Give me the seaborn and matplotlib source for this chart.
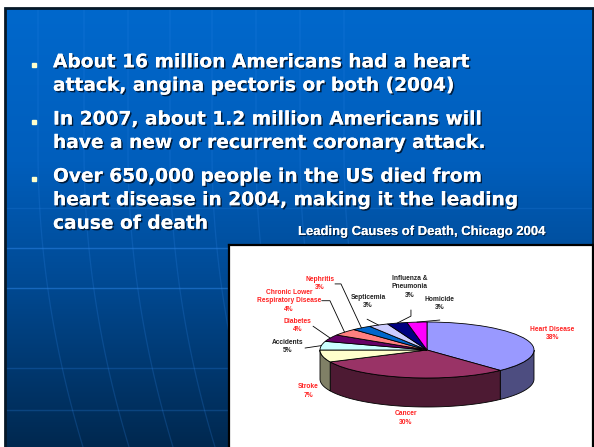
import numpy as np
import matplotlib
matplotlib.use("Agg")
import matplotlib.pyplot as plt
import matplotlib.patheffects as pe
from matplotlib.patches import Rectangle
from matplotlib.colors import to_rgb, LinearSegmentedColormap
import seaborn as sns

# --- data ---
causes = ["Heart Disease", "Cancer", "Stroke", "Accidents", "Diabetes",
          "Chronic Lower\nRespiratory Disease", "Nephritis", "Septicemia",
          "Influenza &\nPneumonia", "Homicide"]
shares = [38, 30, 7, 5, 4, 4, 3, 3, 3, 3]
slice_colors = ["#9999FF", "#993366", "#FFFFCC", "#CCFFFF", "#660066",
                "#FF8080", "#0066CC", "#CCCCFF", "#000080", "#FF00FF"]
label_is_red = [True, True, True, False, True, True, True, False, False, False]

bullets = [
    ["About 16 million Americans had a heart",
     "attack, angina pectoris or both (2004)"],
    ["In 2007, about 1.2 million Americans will",
     "have a new or recurrent coronary attack."],
    ["Over 650,000 people in the US died from",
     "heart disease in 2004, making it the leading",
     "cause of death"],
]
chart_title = "Leading Causes of Death, Chicago 2004"

# label layout in pie data units (x: 1 = radius, y: 1 = squashed radius)
label_xy = [(1.17, 0.59), (-0.2, -2.43), (-1.11, -1.46), (-1.30, 0.12),
            (-1.21, 0.87), (-1.29, 1.75), (-1.0, 2.37), (-0.55, 1.73),
            (-0.16, 2.25), (0.12, 1.66)]
leader_pts = [None, None, None,
              [(-1.14, 0.07)],
              [(-1.065, 0.85)],
              [(-0.984, 1.76), (-0.907, 1.76)],
              [(-0.86, 2.36), (-0.804, 2.36)],
              [(-0.56, 1.10)],
              [(-0.15, 1.43), (-0.15, 1.21)],
              [(0.12, 1.07)]]

sns.set_theme(style="white")
plt.rcParams["font.family"] = ["DejaVu Sans"]

W, H = 594, 447
fig = plt.figure(figsize=(W / 100, H / 100), dpi=100)
fig.patch.set_facecolor("white")

# slide background
bg = fig.add_axes([0, 0, 1, 1])
bg.set_xlim(0, W)
bg.set_ylim(H, 0)
bg.axis("off")
cmap = LinearSegmentedColormap.from_list(
    "slide", [(0, "#0068CC"), (0.35, "#005EBC"), (0.62, "#004A94"), (1, "#00284F")])
grad = np.linspace(0, 1, 256).reshape(-1, 1)
bg.imshow(grad, cmap=cmap, extent=(5, 593, 447, 8), aspect="auto", zorder=0)

# faint decorative grid of the template
for yy, a in [(208, 0.2), (248, 0.5), (288, 0.5), (368, 0.25), (410, 0.25)]:
    bg.plot([6, 592], [yy, yy], color="#2F86E8", alpha=a, lw=1, zorder=1)
ys = np.linspace(9, 447, 100)
for x0 in [38, 84, 128, 170, 212, 256, 300, 344]:
    bg.plot(x0 + 45 * np.clip((ys - 150) / 297, 0, None) ** 2, ys,
            color="#2F86E8", alpha=0.22, lw=0.9, zorder=1)
bg.add_patch(Rectangle((5, 8), 588, 440, fill=False, edgecolor="#061828", lw=2, zorder=2))

shadow = [pe.withSimplePatchShadow(offset=(1.1, -1.1), shadow_rgbFace="#00152e", alpha=0.9),
          pe.Normal()]
for b, lines in enumerate(bullets):
    y0 = 67.3 + 57.2 * b
    bg.plot(34, y0 - 2.8, marker="s", markersize=3.2, color="#FFFFCC", zorder=3)
    for i, line in enumerate(lines):
        bg.text(53, y0 + 23.5 * i, line, color="white", fontsize=13.4,
                fontweight="bold", va="baseline", ha="left", zorder=3,
                path_effects=shadow)

bg.text(421, 232, chart_title, color="white", fontsize=9.4, fontweight="bold",
        family=["Liberation Sans", "DejaVu Sans"], ha="center", va="center",
        zorder=3, path_effects=[pe.withSimplePatchShadow(offset=(0.8, -0.8),
                                shadow_rgbFace="#00152e", alpha=0.8), pe.Normal()])

# chart box
left, right, top, bottom = 229, 593, 245, 447
ax = fig.add_axes([left / W, 0, (right - left) / W, (bottom - top) / H])
cx, cy, rx, ry, depth = 427, 350, 107, 28, 29

ax.pie(shares, colors=slice_colors, startangle=90, counterclock=False, radius=1,
       wedgeprops=dict(edgecolor="black", linewidth=0.6), frame=True)
ax.set_aspect("auto")
ax.set_xlim((left - cx) / rx, (right - cx) / rx)
ax.set_ylim((cy - bottom) / ry, (cy - top) / ry)
ax.set_xticks([])
ax.set_yticks([])
ax.set_facecolor("white")
for name, sp in ax.spines.items():
    sp.set_visible(name != "bottom")
    sp.set_color("black")
    sp.set_linewidth(1.6)

# extruded side of the front half of the pie
D = depth / ry
bounds = 90 - 360 * np.concatenate([[0], np.cumsum(shares)]) / sum(shares)
for i in range(len(shares)):
    hi, lo = bounds[i], bounds[i + 1]
    a, b = max(lo, -180), min(hi, 0)
    if b <= a:
        continue
    t = np.radians(np.linspace(a, b, 80))
    xs = np.concatenate([np.cos(t), np.cos(t[::-1])])
    yv = np.concatenate([np.sin(t), np.sin(t[::-1]) - D])
    side = tuple(0.5 * c for c in to_rgb(slice_colors[i]))
    ax.fill(xs, yv, facecolor=side, edgecolor="black", lw=0.6, zorder=0.5)

# labels and leader lines
for i, name in enumerate(causes):
    col = "#FF2020" if label_is_red[i] else "#222222"
    ax.text(label_xy[i][0], label_xy[i][1], f"{name}\n{shares[i]}%", color=col,
            fontsize=4.8, fontweight="bold", family=["Liberation Sans", "DejaVu Sans"],
            ha="center", va="center", linespacing=1.25, zorder=4)
    if leader_pts[i]:
        mid = np.radians((bounds[i] + bounds[i + 1]) / 2)
        pts = leader_pts[i] + [(np.cos(mid), np.sin(mid))]
        ax.plot([p[0] for p in pts], [p[1] for p in pts], color="black", lw=0.6, zorder=4)

fig.savefig("out.png", dpi=100)
